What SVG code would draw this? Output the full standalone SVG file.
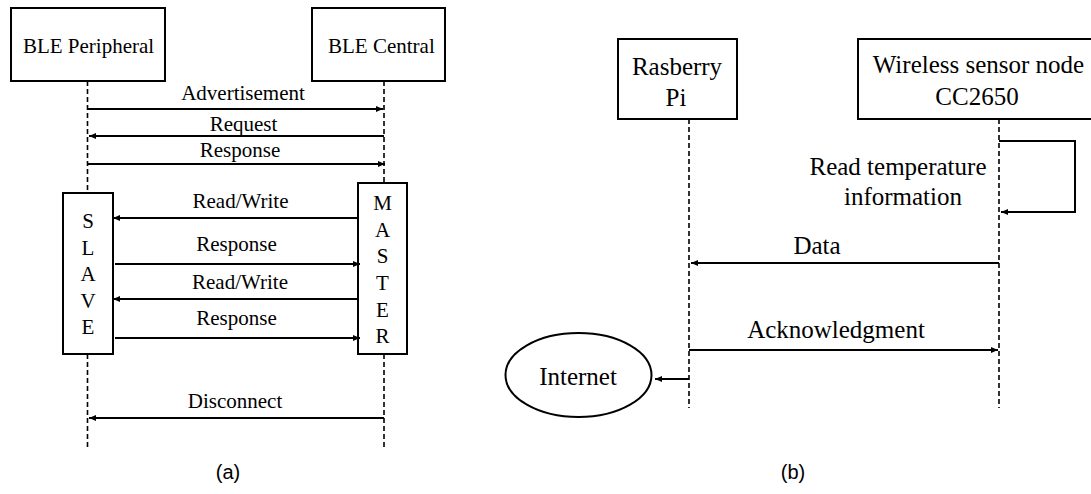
<svg xmlns="http://www.w3.org/2000/svg" width="1091" height="494" viewBox="0 0 1091 494">
<style>
.box{fill:#fff;stroke:#000;stroke-width:2}
.life{stroke:#000;stroke-width:1.6;stroke-dasharray:5,3;fill:none}
.msg{stroke:#000;stroke-width:2;fill:none;marker-end:url(#ah)}
.ta{font-family:"Liberation Serif","Times New Roman",serif;font-size:21px;fill:#000;text-anchor:middle}
.tb{font-family:"Liberation Serif","Times New Roman",serif;font-size:25px;fill:#000;text-anchor:middle}
.cap{font-family:"Liberation Sans",Arial,sans-serif;font-size:20px;fill:#000;text-anchor:middle}
</style>
<defs>
<marker id="ah" markerUnits="userSpaceOnUse" markerWidth="8" markerHeight="8" refX="7" refY="3" orient="auto">
<path d="M0,0 L7,3 L0,6 z" fill="#000"/>
</marker>
</defs>
<rect width="1091" height="494" fill="#fff"/>

<!-- Panel (a) -->
<g id="peripheral">
<rect class="box" x="11" y="8" width="154" height="73"/>
<text class="ta" x="88.5" y="53">BLE Peripheral</text>
</g>
<g id="central">
<rect class="box" x="312" y="8" width="133" height="73"/>
<text class="ta" x="328" y="53" style="text-anchor:start">BLE Central</text>
</g>
<g id="slave">
<rect class="box" x="63" y="193" width="50" height="161"/>
<text class="ta" x="88" y="228">S</text>
<text class="ta" x="88" y="255">L</text>
<text class="ta" x="88" y="281">A</text>
<text class="ta" x="88" y="308">V</text>
<text class="ta" x="88" y="334">E</text>
</g>
<g id="master">
<rect class="box" x="358" y="183" width="49" height="171"/>
<text class="ta" x="382.5" y="210">M</text>
<text class="ta" x="382.5" y="237">A</text>
<text class="ta" x="382.5" y="263">S</text>
<text class="ta" x="382.5" y="290">T</text>
<text class="ta" x="382.5" y="317">E</text>
<text class="ta" x="382.5" y="343">R</text>
</g>

<!-- Panel (b) -->
<g id="rasberry">
<rect class="box" x="618" y="39" width="119" height="80"/>
<text class="tb" x="677" y="75">Rasberry</text>
<text class="tb" x="676" y="106">Pi</text>
</g>
<g id="sensor">
<rect class="box" x="858" y="39" width="240" height="80"/>
<text class="tb" x="978.5" y="73">Wireless sensor node</text>
<text class="tb" x="977" y="105">CC2650</text>
</g>
<g id="internet">
<ellipse cx="578.5" cy="375" rx="73" ry="42" fill="#fff" stroke="#000" stroke-width="2"/>
<text class="tb" x="578" y="385">Internet</text>
</g>

<g id="connectors">
<!-- lifelines (a) -->
<line class="life" x1="87.5" y1="81" x2="87.5" y2="193"/>
<line class="life" x1="87.5" y1="354" x2="87.5" y2="450"/>
<line class="life" x1="384" y1="81" x2="384" y2="183"/>
<line class="life" x1="384" y1="354" x2="384" y2="450"/>
<!-- messages (a) -->
<line class="msg" x1="88" y1="109" x2="383" y2="109"/>
<line class="msg" x1="384" y1="136" x2="89" y2="136"/>
<line class="msg" x1="88" y1="164" x2="385" y2="164"/>
<line class="msg" x1="358" y1="218" x2="113" y2="218"/>
<line class="msg" x1="115" y1="264" x2="360" y2="264"/>
<line class="msg" x1="358" y1="299" x2="113" y2="299"/>
<line class="msg" x1="115" y1="338" x2="360" y2="338"/>
<line class="msg" x1="384" y1="418" x2="89" y2="418"/>
<!-- lifelines (b) -->
<line class="life" x1="689" y1="119" x2="689" y2="408"/>
<line class="life" x1="999" y1="119" x2="999" y2="408"/>
<!-- messages (b) -->
<path class="msg" d="M999,141 H1075 V212 H1001"/>
<line class="msg" x1="999" y1="263" x2="691" y2="263"/>
<line class="msg" x1="689" y1="350" x2="998" y2="350"/>
<line class="msg" x1="689" y1="379" x2="655" y2="379"/>
</g>

<!-- labels -->
<text class="ta" x="243" y="100">Advertisement</text>
<text class="ta" x="243.5" y="131">Request</text>
<text class="ta" x="240" y="157">Response</text>
<text class="ta" x="240.5" y="208">Read/Write</text>
<text class="ta" x="236.5" y="251">Response</text>
<text class="ta" x="240" y="289">Read/Write</text>
<text class="ta" x="236.5" y="325">Response</text>
<text class="ta" x="235" y="408">Disconnect</text>
<text class="tb" x="898" y="175">Read temperature</text>
<text class="tb" x="903" y="205">information</text>
<text class="tb" x="817" y="254">Data</text>
<text class="tb" x="836" y="338">Acknowledgment</text>
<text class="cap" x="228" y="479">(a)</text>
<text class="cap" x="793" y="479">(b)</text>
</svg>
